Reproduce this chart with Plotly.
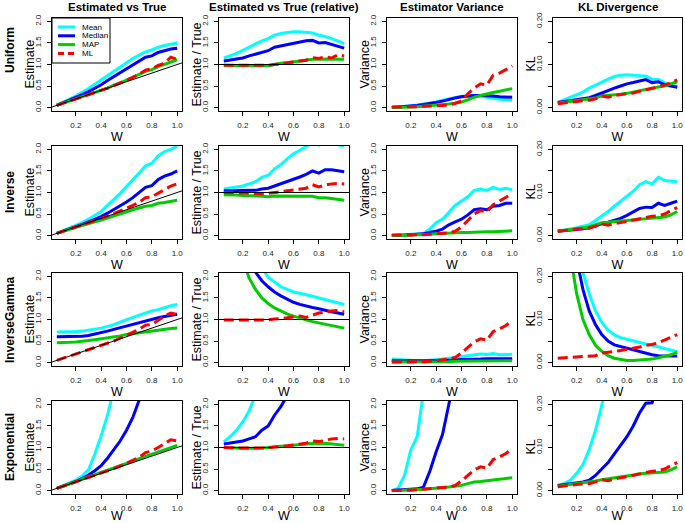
import plotly.graph_objects as go

# ---------------- data ----------------
W = [0.05, 0.10, 0.15, 0.20, 0.25, 0.30, 0.35, 0.40, 0.45, 0.50,
     0.55, 0.60, 0.65, 0.70, 0.75, 0.80, 0.85, 0.90, 0.95, 1.00]

REF_X = [0.0, 1.1]
REF_IDENTITY = [0.0, 1.1]
REF_ONE = [1.0, 1.0]

row_names = ["Uniform", "Inverse", "InverseGamma", "Exponential"]
col_titles = ["Estimated vs True", "Estimated vs True (relative)", "Estimator Variance", "KL Divergence"]
y_titles = ["Estimate", "Estimate / True", "Variance", "KL"]
series_names = ["Mean", "Median", "MAP", "ML"]

W_ticks = [0.2, 0.4, 0.6, 0.8, 1.0]
W_ticktext = ["0.2", "0.4", "0.6", "0.8", "1.0"]
Y_ticks = [0.0, 0.5, 1.0, 1.5, 2.0]
Y_ticktext = ["0.0", "0.5", "1.0", "1.5", "2.0"]
KL_ticks = [0.0, 0.05, 0.10, 0.15, 0.20]
KL_ticktext = ["0.00", "", "0.10", "", "0.20"]

# Uniform
uni_est_mean = [0.06,0.12,0.19,0.27,0.35,0.44,0.54,0.64,0.75,0.86,0.96,1.06,1.14,1.22,1.29,1.34,1.40,1.44,1.47,1.50]
uni_est_median = [0.05,0.11,0.17,0.23,0.30,0.37,0.45,0.53,0.63,0.72,0.81,0.90,0.99,1.09,1.17,1.20,1.28,1.32,1.36,1.38]
uni_est_map = [0.05,0.10,0.15,0.19,0.24,0.29,0.34,0.39,0.45,0.52,0.57,0.64,0.70,0.77,0.84,0.88,0.95,1.00,1.05,1.11]
uni_est_ml = [0.05,0.10,0.15,0.20,0.25,0.29,0.34,0.39,0.45,0.51,0.57,0.64,0.70,0.77,0.87,0.90,0.98,1.03,1.17,1.12]
uni_rel_mean = [1.15,1.20,1.26,1.33,1.40,1.48,1.55,1.60,1.68,1.72,1.74,1.76,1.76,1.75,1.73,1.68,1.65,1.60,1.55,1.48]
uni_rel_median = [1.08,1.10,1.12,1.15,1.20,1.24,1.28,1.32,1.40,1.43,1.47,1.50,1.52,1.55,1.56,1.50,1.51,1.47,1.43,1.38]
uni_rel_map = [0.98,0.97,0.97,0.97,0.97,0.97,0.98,0.97,1.00,1.03,1.04,1.06,1.08,1.10,1.12,1.12,1.13,1.12,1.12,1.12]
uni_rel_ml = [0.98,0.98,0.97,0.98,0.98,0.97,0.98,0.98,1.00,1.02,1.04,1.06,1.08,1.10,1.16,1.14,1.18,1.15,1.22,1.20]
uni_var_mean = [0.00,0.01,0.02,0.04,0.06,0.08,0.10,0.13,0.17,0.20,0.23,0.26,0.27,0.27,0.26,0.24,0.21,0.19,0.18,0.17]
uni_var_median = [0.00,0.01,0.02,0.03,0.05,0.07,0.09,0.12,0.15,0.19,0.22,0.25,0.27,0.28,0.28,0.28,0.27,0.25,0.24,0.24]
uni_var_map = [0.00,0.00,0.01,0.01,0.02,0.03,0.04,0.05,0.06,0.08,0.10,0.13,0.18,0.24,0.28,0.32,0.35,0.38,0.41,0.44]
uni_var_ml = [0.01,0.01,0.01,0.02,0.02,0.03,0.03,0.04,0.05,0.06,0.10,0.15,0.32,0.45,0.55,0.52,0.75,0.80,0.88,0.97]
uni_kl_mean = [0.012,0.018,0.024,0.030,0.036,0.045,0.052,0.060,0.066,0.072,0.075,0.076,0.075,0.074,0.073,0.066,0.065,0.058,0.052,0.048]
uni_kl_median = [0.012,0.014,0.016,0.018,0.020,0.023,0.028,0.034,0.040,0.045,0.050,0.055,0.058,0.062,0.065,0.058,0.060,0.053,0.050,0.047]
uni_kl_map = [0.010,0.012,0.014,0.016,0.017,0.019,0.022,0.027,0.028,0.030,0.031,0.033,0.036,0.040,0.042,0.044,0.048,0.050,0.055,0.060]
uni_kl_ml = [0.009,0.011,0.013,0.015,0.016,0.017,0.020,0.027,0.024,0.028,0.030,0.032,0.034,0.038,0.042,0.045,0.048,0.052,0.058,0.064]

# Inverse
inv_est_mean = [0.05,0.11,0.17,0.23,0.30,0.38,0.47,0.56,0.70,0.83,0.98,1.14,1.29,1.45,1.62,1.68,1.85,1.95,2.00,2.08]
inv_est_median = [0.05,0.10,0.16,0.21,0.26,0.32,0.38,0.44,0.52,0.60,0.69,0.78,0.88,0.99,1.12,1.16,1.30,1.38,1.43,1.50]
inv_est_map = [0.05,0.10,0.14,0.19,0.23,0.28,0.32,0.36,0.41,0.46,0.51,0.55,0.60,0.64,0.68,0.70,0.75,0.77,0.80,0.82]
inv_est_ml = [0.05,0.10,0.15,0.20,0.25,0.29,0.34,0.39,0.45,0.51,0.57,0.63,0.70,0.77,0.88,0.90,0.99,1.08,1.15,1.20]
inv_rel_mean = [1.08,1.10,1.12,1.15,1.20,1.25,1.35,1.40,1.55,1.65,1.78,1.90,1.98,2.08,2.16,2.10,2.18,2.17,2.11,2.08]
inv_rel_median = [1.04,1.04,1.04,1.04,1.04,1.05,1.08,1.10,1.15,1.20,1.25,1.30,1.36,1.42,1.50,1.45,1.53,1.53,1.50,1.48]
inv_rel_map = [0.95,0.95,0.94,0.93,0.93,0.92,0.91,0.90,0.92,0.92,0.92,0.92,0.92,0.92,0.91,0.88,0.88,0.86,0.84,0.82]
inv_rel_ml = [1.00,0.99,0.99,0.99,0.98,0.98,0.97,0.98,1.00,1.02,1.03,1.05,1.08,1.10,1.18,1.13,1.17,1.20,1.21,1.20]
inv_var_mean = [0.00,0.01,0.01,0.02,0.03,0.05,0.15,0.30,0.38,0.55,0.70,0.80,0.90,1.05,1.08,1.05,1.12,1.07,1.10,1.06]
inv_var_median = [0.00,0.00,0.01,0.02,0.03,0.04,0.08,0.10,0.15,0.25,0.32,0.38,0.48,0.60,0.62,0.60,0.68,0.70,0.75,0.75]
inv_var_map = [0.00,0.00,0.01,0.01,0.02,0.02,0.03,0.04,0.05,0.05,0.06,0.07,0.07,0.08,0.08,0.09,0.09,0.10,0.10,0.11]
inv_var_ml = [0.01,0.01,0.01,0.01,0.02,0.02,0.03,0.04,0.05,0.06,0.10,0.20,0.35,0.50,0.58,0.55,0.72,0.80,0.90,0.97]
inv_kl_mean = [0.010,0.012,0.015,0.018,0.021,0.025,0.035,0.045,0.056,0.068,0.080,0.093,0.103,0.118,0.125,0.120,0.135,0.128,0.127,0.125]
inv_kl_median = [0.010,0.011,0.012,0.014,0.016,0.018,0.022,0.028,0.031,0.035,0.040,0.047,0.055,0.063,0.066,0.065,0.075,0.070,0.075,0.080]
inv_kl_map = [0.010,0.012,0.014,0.016,0.018,0.020,0.025,0.030,0.031,0.033,0.034,0.035,0.037,0.038,0.039,0.040,0.042,0.043,0.048,0.056]
inv_kl_ml = [0.010,0.012,0.013,0.015,0.016,0.017,0.022,0.027,0.024,0.028,0.030,0.033,0.035,0.038,0.042,0.045,0.046,0.050,0.058,0.065]

# InverseGamma
ig_est_mean = [0.71,0.71,0.72,0.72,0.73,0.75,0.77,0.80,0.84,0.88,0.94,1.00,1.05,1.10,1.15,1.20,1.23,1.28,1.32,1.35]
ig_est_median = [0.60,0.60,0.60,0.60,0.61,0.63,0.66,0.70,0.73,0.77,0.81,0.85,0.89,0.93,0.97,1.00,1.04,1.07,1.10,1.12]
ig_est_map = [0.46,0.46,0.47,0.48,0.49,0.51,0.53,0.55,0.57,0.60,0.62,0.65,0.67,0.69,0.71,0.74,0.76,0.78,0.79,0.80]
ig_est_ml = [0.05,0.10,0.15,0.20,0.24,0.29,0.34,0.40,0.45,0.50,0.57,0.64,0.70,0.77,0.87,0.88,0.98,1.08,1.15,1.12]
ig_rel_mean = [14.2,7.1,4.8,3.6,2.92,2.50,2.20,1.98,1.86,1.76,1.70,1.64,1.61,1.58,1.54,1.50,1.46,1.42,1.39,1.35]
ig_rel_median = [12.0,6.0,4.0,3.0,2.44,2.10,1.90,1.76,1.64,1.55,1.47,1.40,1.35,1.31,1.28,1.25,1.21,1.18,1.15,1.12]
ig_rel_map = [9.2,4.6,3.1,2.4,1.96,1.70,1.50,1.37,1.27,1.20,1.13,1.08,1.03,0.99,0.95,0.92,0.89,0.86,0.83,0.80]
ig_rel_ml = [0.99,0.99,0.99,0.99,0.99,0.99,0.99,0.99,1.01,1.02,1.04,1.06,1.08,1.05,1.10,1.15,1.17,1.20,1.21,1.18]
ig_var_mean = [0.08,0.07,0.05,0.04,0.04,0.04,0.05,0.06,0.08,0.10,0.12,0.14,0.16,0.18,0.20,0.19,0.21,0.18,0.19,0.19]
ig_var_median = [0.04,0.04,0.03,0.03,0.03,0.04,0.04,0.05,0.05,0.06,0.06,0.07,0.07,0.08,0.08,0.09,0.09,0.09,0.09,0.09]
ig_var_map = [0.01,0.01,0.01,0.01,0.01,0.02,0.02,0.02,0.02,0.02,0.03,0.03,0.03,0.03,0.03,0.03,0.04,0.04,0.04,0.04]
ig_var_ml = [0.01,0.01,0.01,0.01,0.02,0.02,0.03,0.05,0.06,0.08,0.12,0.22,0.35,0.48,0.55,0.52,0.72,0.78,0.86,0.97]
ig_kl_mean = [0.90,0.60,0.40,0.28,0.21,0.16,0.12,0.093,0.075,0.064,0.058,0.054,0.050,0.046,0.043,0.040,0.036,0.032,0.028,0.025]
ig_kl_median = [0.80,0.50,0.35,0.24,0.17,0.12,0.088,0.065,0.050,0.041,0.037,0.034,0.030,0.026,0.022,0.018,0.016,0.015,0.015,0.015]
ig_kl_map = [0.60,0.40,0.25,0.16,0.10,0.065,0.040,0.026,0.016,0.010,0.007,0.005,0.005,0.006,0.007,0.008,0.011,0.014,0.018,0.024]
ig_kl_ml = [0.010,0.011,0.012,0.014,0.015,0.015,0.016,0.022,0.024,0.025,0.028,0.031,0.033,0.036,0.040,0.042,0.046,0.052,0.058,0.065]

# Exponential
exp_est_mean = [0.05,0.11,0.17,0.24,0.34,0.48,0.85,1.27,1.75,2.30,2.9,3.5,4.1,4.7,5.3,5.9,6.5,7.1,7.7,8.3]
exp_est_median = [0.05,0.10,0.15,0.21,0.28,0.36,0.46,0.58,0.75,0.95,1.15,1.40,1.70,2.10,2.5,2.9,3.3,3.7,4.1,4.5]
exp_est_map = [0.05,0.10,0.16,0.21,0.26,0.32,0.37,0.42,0.47,0.53,0.58,0.63,0.68,0.74,0.79,0.84,0.89,0.95,1.00,1.05]
exp_est_ml = [0.05,0.10,0.15,0.20,0.25,0.30,0.35,0.40,0.45,0.51,0.57,0.64,0.70,0.77,0.88,0.92,1.00,1.10,1.18,1.15]
exp_rel_mean = [1.13,1.25,1.40,1.60,1.85,2.20,2.6,3.2,3.9,4.6,5.3,5.8,6.3,6.7,7.1,7.4,7.6,7.9,8.1,8.3]
exp_rel_median = [1.08,1.10,1.12,1.15,1.20,1.25,1.40,1.50,1.75,1.95,2.20,2.40,2.6,3.0,3.3,3.6,3.9,4.1,4.3,4.5]
exp_rel_map = [1.00,0.99,0.98,0.98,0.98,0.98,0.99,1.00,1.02,1.03,1.04,1.05,1.07,1.08,1.10,1.08,1.10,1.08,1.06,1.05]
exp_rel_ml = [1.00,0.99,0.99,0.99,0.99,0.99,0.99,0.99,1.01,1.02,1.04,1.06,1.08,1.10,1.15,1.14,1.16,1.20,1.21,1.20]
exp_var_mean = [0.00,0.05,0.35,0.95,1.25,2.20,3.5,5,6,7,8,9,10,11,12,13,14,15,16,17]
exp_var_median = [0.00,0.01,0.02,0.03,0.04,0.08,0.45,0.90,1.30,2.00,2.8,3.5,4.2,5,5.8,6.5,7.2,8,8.8,9.5]
exp_var_map = [0.00,0.00,0.01,0.02,0.02,0.03,0.04,0.05,0.06,0.08,0.10,0.12,0.16,0.20,0.21,0.23,0.25,0.27,0.29,0.30]
exp_var_ml = [0.00,0.00,0.00,0.01,0.02,0.03,0.04,0.05,0.06,0.08,0.12,0.22,0.35,0.48,0.55,0.52,0.72,0.78,0.86,0.97]
exp_kl_mean = [0.012,0.016,0.024,0.040,0.060,0.095,0.14,0.19,0.24,0.30,0.36,0.42,0.48,0.54,0.60,0.66,0.72,0.78,0.84,0.90]
exp_kl_median = [0.012,0.014,0.016,0.018,0.020,0.024,0.035,0.050,0.065,0.085,0.105,0.125,0.150,0.180,0.203,0.204,0.25,0.30,0.35,0.40]
exp_kl_map = [0.010,0.012,0.013,0.015,0.017,0.020,0.022,0.025,0.027,0.029,0.031,0.033,0.036,0.039,0.040,0.041,0.042,0.043,0.048,0.055]
exp_kl_ml = [0.009,0.011,0.012,0.014,0.015,0.016,0.020,0.025,0.023,0.027,0.030,0.032,0.035,0.038,0.042,0.045,0.046,0.050,0.058,0.065]

panels = [
    [[uni_est_mean, uni_est_median, uni_est_map, uni_est_ml],
     [uni_rel_mean, uni_rel_median, uni_rel_map, uni_rel_ml],
     [uni_var_mean, uni_var_median, uni_var_map, uni_var_ml],
     [uni_kl_mean, uni_kl_median, uni_kl_map, uni_kl_ml]],
    [[inv_est_mean, inv_est_median, inv_est_map, inv_est_ml],
     [inv_rel_mean, inv_rel_median, inv_rel_map, inv_rel_ml],
     [inv_var_mean, inv_var_median, inv_var_map, inv_var_ml],
     [inv_kl_mean, inv_kl_median, inv_kl_map, inv_kl_ml]],
    [[ig_est_mean, ig_est_median, ig_est_map, ig_est_ml],
     [ig_rel_mean, ig_rel_median, ig_rel_map, ig_rel_ml],
     [ig_var_mean, ig_var_median, ig_var_map, ig_var_ml],
     [ig_kl_mean, ig_kl_median, ig_kl_map, ig_kl_ml]],
    [[exp_est_mean, exp_est_median, exp_est_map, exp_est_ml],
     [exp_rel_mean, exp_rel_median, exp_rel_map, exp_rel_ml],
     [exp_var_mean, exp_var_median, exp_var_map, exp_var_ml],
     [exp_kl_mean, exp_kl_median, exp_kl_map, exp_kl_ml]],
]

# ---------------- styling / layout ----------------
FW, FH = 685, 523
FONT = "Liberation Sans, Arial, Helvetica, sans-serif"
colors = ["#00FFFF", "#0000FF", "#00CD00", "#FF0000"]
dashes = ["solid", "solid", "solid", "10px,5px"]

col_left = [52, 219, 387, 553]
box_w = [130, 130, 130, 129]
row_top = [18, 146, 273, 401]
box_h = 93

fig = go.Figure()
layout = dict(
    width=FW, height=FH, template="none",
    margin=dict(l=0, r=0, t=0, b=0),
    paper_bgcolor="white", plot_bgcolor="white",
    showlegend=False, font=dict(family=FONT, color="black"),
)
annotations = []
shapes = []

for r in range(4):
    for c in range(4):
        k = r * 4 + c + 1
        xs = "x" if k == 1 else f"x{k}"
        ys = "y" if k == 1 else f"y{k}"
        xa = "xaxis" if k == 1 else f"xaxis{k}"
        ya = "yaxis" if k == 1 else f"yaxis{k}"
        xd = [col_left[c] / FW, (col_left[c] + box_w[c]) / FW]
        yd = [1 - (row_top[r] + box_h) / FH, 1 - row_top[r] / FH]
        common = dict(showline=True, mirror=True, linecolor="black", linewidth=1,
                      ticks="outside", ticklen=4, tickwidth=1, tickcolor="black",
                      showgrid=False, zeroline=False, automargin=False,
                      tickfont=dict(size=8, color="#222", family=FONT))
        layout[xa] = dict(domain=xd, anchor=ys, range=[0.012, 1.038],
                          tickmode="array", tickvals=W_ticks, ticktext=W_ticktext,
                          ticklabelstandoff=2,
                          title=dict(text="W", font=dict(size=12.5, family=FONT), standoff=1),
                          **common)
        if c == 3:
            yr, tv, tt = [-0.008, 0.208], KL_ticks, KL_ticktext
        else:
            yr, tv, tt = [-0.08, 2.08], Y_ticks, Y_ticktext
        layout[ya] = dict(domain=yd, anchor=xs, range=yr, tickmode="array",
                          tickvals=tv, ticktext=tt, tickangle=-90,
                          ticklabelstandoff=3,
                          **common)
        # y-axis title placed R-style, left of the tick labels
        annotations.append(dict(
            text=y_titles[c], xref="paper", yref="paper",
            x=(col_left[c] - 23) / FW, y=1 - (row_top[r] + box_h / 2) / FH,
            textangle=-90, showarrow=False, xanchor="center", yanchor="middle",
            font=dict(size=12.5, family=FONT, color="black")))
        for s in range(4):
            fig.add_trace(go.Scatter(
                x=W, y=panels[r][c][s], mode="lines", name=series_names[s],
                line=dict(color=colors[s], width=3, dash=dashes[s]),
                xaxis=xs, yaxis=ys, hoverinfo="skip"))
        if c == 0:
            fig.add_trace(go.Scatter(x=REF_X, y=REF_IDENTITY, mode="lines",
                                     line=dict(color="black", width=1),
                                     xaxis=xs, yaxis=ys, hoverinfo="skip"))
        elif c == 1:
            fig.add_trace(go.Scatter(x=REF_X, y=REF_ONE, mode="lines",
                                     line=dict(color="black", width=1),
                                     xaxis=xs, yaxis=ys, hoverinfo="skip"))

# column titles
for c in range(4):
    annotations.append(dict(
        text=f"<b>{col_titles[c]}</b>", xref="paper", yref="paper",
        x=(col_left[c] + box_w[c] / 2) / FW, y=1 - 7 / FH,
        showarrow=False, xanchor="center", yanchor="middle",
        font=dict(size=11.5, family=FONT, color="black")))

# row labels
row_centers = [50, 192, 320, 447]
for r in range(4):
    annotations.append(dict(
        text=f"<b>{row_names[r]}</b>", xref="paper", yref="paper",
        x=10 / FW, y=1 - row_centers[r] / FH, textangle=-90,
        showarrow=False, xanchor="center", yanchor="middle",
        font=dict(size=12, family=FONT, color="black")))

# legend in first panel (R style topleft box)
lw, lh = 58, 45
shapes.append(dict(type="rect", xref="x domain", yref="y domain",
                   x0=0, x1=lw / box_w[0], y0=1 - lh / box_h, y1=1,
                   line=dict(color="black", width=1), fillcolor="white", layer="above"))
item_y = [9, 17.8, 26.6, 35.4]
for s in range(4):
    yy = 1 - item_y[s] / box_h
    shapes.append(dict(type="line", xref="x domain", yref="y domain",
                       x0=6 / box_w[0], x1=23 / box_w[0], y0=yy, y1=yy, layer="above",
                       line=dict(color=colors[s], width=3,
                                 dash="solid" if s < 3 else "6px,4px")))
    annotations.append(dict(text=series_names[s], xref="x domain", yref="y domain",
                            x=28 / box_w[0], y=yy, xanchor="left", yanchor="middle",
                            showarrow=False, font=dict(size=8, family=FONT, color="black")))

layout["annotations"] = annotations
layout["shapes"] = shapes
fig.update_layout(**layout)
fig.write_html("out.html", config={"displayModeBar": False},
               post_script="document.body.style.margin='0';document.body.style.overflow='hidden';")
